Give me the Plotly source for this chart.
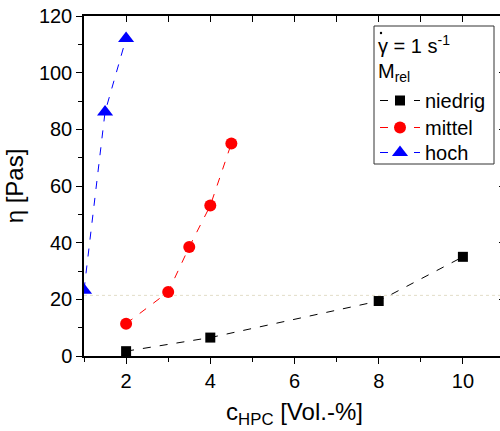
import plotly.graph_objects as go

# data
x_niedrig = [2, 4, 8, 10]
y_niedrig = [1.7, 6.5, 19.4, 35.0]
x_mittel = [2, 3, 3.5, 4, 4.5]
y_mittel = [11.4, 22.6, 38.5, 53.1, 75.0]
x_hoch = [1, 1.5, 2]
y_hoch = [23.2, 86.1, 112.1]
ref_level = 21.4

FONT = "Liberation Sans, Arial, sans-serif"
W, H = 506, 431
ML, MR, MT, MB = 84, 1, 16, 75
PW, PH = W - ML - MR, H - MT - MB


def px2x(px):
    return (px - ML) / PW


def py2y(py):
    return 1 - (py - MT) / PH


fig = go.Figure()
fig.add_trace(go.Scatter(x=x_niedrig, y=y_niedrig, name="niedrig", mode="lines+markers",
                         line=dict(color="black", width=1, dash="8px,9px"),
                         marker=dict(symbol="square", size=10, color="black"), legend="legend"))
fig.add_trace(go.Scatter(x=x_mittel, y=y_mittel, name="mittel", mode="lines+markers",
                         line=dict(color="red", width=1, dash="8px,9px"),
                         marker=dict(symbol="circle", size=12, color="red"), legend="legend2"))
fig.add_trace(go.Scatter(x=x_hoch, y=y_hoch, name="hoch", mode="lines+markers",
                         line=dict(color="blue", width=1, dash="8px,9px"),
                         marker=dict(symbol="triangle-up", size=14, color="blue"), legend="legend3"))

fig.add_shape(type="line", xref="x", yref="y", x0=1, x1=11, y0=ref_level, y1=ref_level,
              line=dict(color="#e2ddc8", width=1, dash="dot"), layer="below")

# legend frame
fig.add_shape(type="rect", xref="paper", yref="paper",
              x0=px2x(374), x1=px2x(494), y0=py2y(164), y1=py2y(26),
              line=dict(color="#333333", width=1), fillcolor="white", layer="above")
# legend header
fig.add_annotation(text="γ = 1 s<sup>-1</sup>", xref="paper", yref="paper",
                   x=px2x(376), y=py2y(44), xanchor="left", yanchor="middle",
                   showarrow=False, font=dict(size=20, family=FONT, color="black"))
fig.add_annotation(text="M<sub>rel</sub>", xref="paper", yref="paper",
                   x=px2x(376), y=py2y(72), xanchor="left", yanchor="middle",
                   showarrow=False, font=dict(size=20, family=FONT, color="black"))
fig.add_shape(type="circle", xref="paper", yref="paper",
              x0=px2x(379.8), x1=px2x(382.2), y0=py2y(34.2), y1=py2y(31.8),
              line=dict(width=0), fillcolor="black", layer="above")

leg_common = dict(xanchor="left", yanchor="top", borderwidth=0, bgcolor="rgba(0,0,0,0)",
                  font=dict(size=20, family=FONT, color="black"), itemwidth=40)

fig.update_layout(
    width=W, height=H,
    margin=dict(l=ML, r=MR, t=MT, b=MB, autoexpand=False),
    paper_bgcolor="white", plot_bgcolor="white",
    font=dict(family=FONT, size=20, color="black"),
    showlegend=True,
    legend=dict(x=px2x(375), y=py2y(81), **leg_common),
    legend2=dict(x=px2x(375), y=py2y(108), **leg_common),
    legend3=dict(x=px2x(375), y=py2y(133), **leg_common),
    xaxis=dict(range=[1, 11], tickvals=[2, 4, 6, 8, 10], showgrid=False, zeroline=False,
               showline=True, linecolor="black", linewidth=1.5,
               ticks="outside", ticklen=6, tickwidth=1.2, tickcolor="black",
               minor=dict(dtick=1, tick0=0, ticks="outside", ticklen=4, tickwidth=1.2, tickcolor="black"),
               title=dict(text="c<sub>HPC</sub> [Vol.-%]", standoff=12)),
    xaxis2=dict(range=[1, 11], overlaying="x", side="top", showgrid=False, zeroline=False,
                showline=True, linecolor="black", linewidth=1.5,
                ticks="inside", ticklen=6, tickwidth=1.2, tickcolor="black",
                dtick=1, tick0=0, showticklabels=False),
    yaxis=dict(range=[0, 120], dtick=20, showgrid=False, zeroline=False,
               showline=True, linecolor="black", linewidth=1.5,
               ticks="outside", ticklen=6, tickwidth=1.2, tickcolor="black",
               minor=dict(dtick=10, ticks="outside", ticklen=4, tickwidth=1.2, tickcolor="black"),
               title=dict(text="η [Pas]", standoff=8)),
    yaxis2=dict(range=[0, 120], overlaying="y", side="right", showgrid=False, zeroline=False,
                showline=True, linecolor="black", linewidth=1.5,
                ticks="inside", ticklen=6, tickwidth=1.2, tickcolor="black",
                dtick=20, showticklabels=False),
)
# dummy trace to activate mirror axes
fig.add_trace(go.Scatter(x=[None], y=[None], xaxis="x2", yaxis="y2", showlegend=False, hoverinfo="skip"))

fig.write_html("out.html", config={"displayModeBar": False},
               post_script="document.body.style.margin='0';document.body.style.overflow='hidden';")
